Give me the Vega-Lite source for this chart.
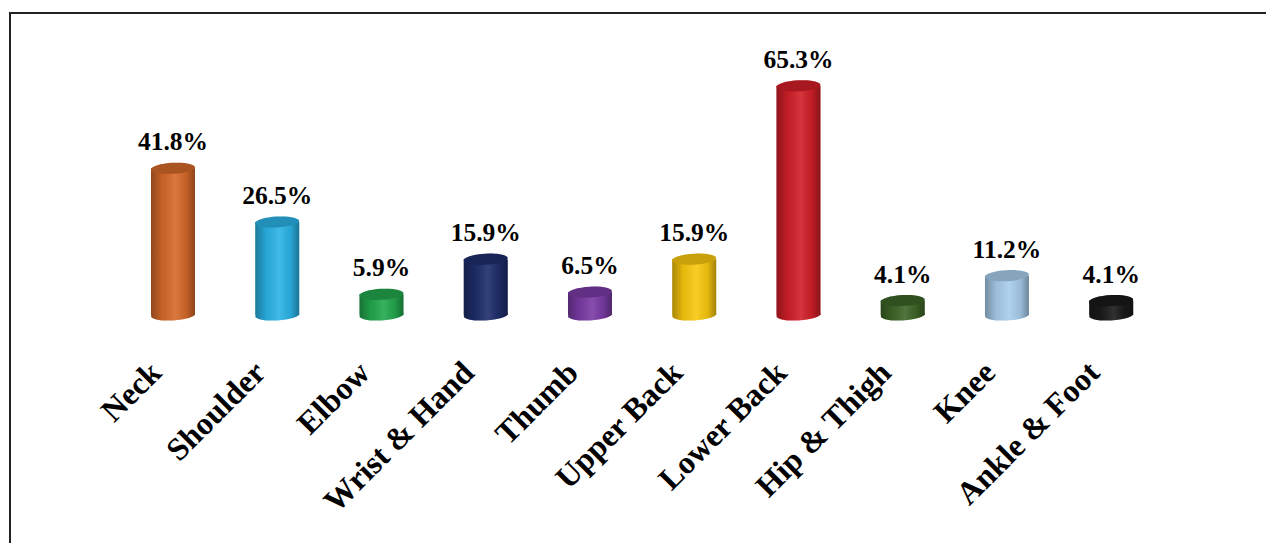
{
  "$schema": "https://vega.github.io/schema/vega-lite/v6.json",
  "autosize": {"type": "none"},
  "padding": {"left": 10, "top": 13, "right": 0, "bottom": 0},
  "width": 1270,
  "height": 560,
  "background": "white",
  "config": {
    "view": {"stroke": "#222222", "strokeWidth": 2},
    "font": "Liberation Serif"
  },
  "data": {
    "values": [
      {"part": "Neck", "share": 0.418},
      {"part": "Shoulder", "share": 0.265},
      {"part": "Elbow", "share": 0.059},
      {"part": "Wrist & Hand", "share": 0.159},
      {"part": "Thumb", "share": 0.065},
      {"part": "Upper Back", "share": 0.159},
      {"part": "Lower Back", "share": 0.653},
      {"part": "Hip & Thigh", "share": 0.041},
      {"part": "Knee", "share": 0.112},
      {"part": "Ankle & Foot", "share": 0.041}
    ]
  },
  "encoding": {
    "x": {
      "field": "part",
      "type": "nominal",
      "sort": null,
      "title": null,
      "scale": {"range": [141, 1123.2], "paddingInner": 0.578, "paddingOuter": 0},
      "axis": {
        "orient": "bottom",
        "offset": -258,
        "domain": false,
        "ticks": false,
        "tickSize": 0,
        "grid": false,
        "labelAngle": -45,
        "labelAlign": "right",
        "labelBaseline": "middle",
        "labelPadding": 52,
        "labelOffset": -17,
        "labelFont": "Liberation Serif",
        "labelFontWeight": "bold",
        "labelFontSize": 32,
        "labelColor": "#000000",
        "labelLimit": 0,
        "labelOverlap": false,
        "labelBound": false,
        "labelFlush": false
      }
    },
    "color": {
      "field": "part",
      "type": "nominal",
      "legend": null,
      "scale": {
        "domain": ["Neck", "Shoulder", "Elbow", "Wrist & Hand", "Thumb", "Upper Back", "Lower Back", "Hip & Thigh", "Knee", "Ankle & Foot"],
        "range": ["#D5692A", "#2BB3E6", "#23A84E", "#1E2D6B", "#7A3BA5", "#F9C80E", "#D11F28", "#3D6627", "#A8CDEB", "#1A1A1A"]
      }
    }
  },
  "layer": [
    {
      "mark": {"type": "point", "filled": true, "opacity": 1, "shape": "M-1,0A1,0.25,0,1,1,1,0A1,0.25,0,1,1,-1,0Z", "size": 1936, "angle": -3, "strokeWidth": 0},
      "encoding": {
        "y": {"datum": 0, "type": "quantitative", "scale": {"domain": [-0.735, 0.8604], "nice": false, "zero": false}, "axis": null}
      }
    },
    {
      "mark": {"type": "point", "filled": true, "opacity": 1, "shape": "M-1,0A1,0.25,0,1,1,1,0A1,0.25,0,1,1,-1,0Z", "size": 1936, "angle": -3, "strokeWidth": 0,
        "fill": {"gradient": "linear", "x1": 0, "x2": 1, "y1": 0, "y2": 0, "stops": [
          {"offset": 0, "color": "rgba(0,0,0,0.32)"},
          {"offset": 0.25, "color": "rgba(0,0,0,0.08)"},
          {"offset": 0.55, "color": "rgba(255,255,255,0.1)"},
          {"offset": 0.8, "color": "rgba(0,0,0,0.08)"},
          {"offset": 1, "color": "rgba(0,0,0,0.35)"}
        ]}},
      "encoding": {
        "y": {"datum": 0, "type": "quantitative"},
        "color": {"value": null}
      }
    },
    {
      "mark": {"type": "bar", "opacity": 1, "strokeWidth": 0},
      "encoding": {
        "y": {"field": "share", "type": "quantitative"},
        "y2": {"datum": 0}
      }
    },
    {
      "mark": {"type": "bar", "opacity": 1, "strokeWidth": 0,
        "fill": {"gradient": "linear", "x1": 0, "x2": 1, "y1": 0, "y2": 0, "stops": [
          {"offset": 0, "color": "rgba(0,0,0,0.32)"},
          {"offset": 0.25, "color": "rgba(0,0,0,0.08)"},
          {"offset": 0.55, "color": "rgba(255,255,255,0.1)"},
          {"offset": 0.8, "color": "rgba(0,0,0,0.08)"},
          {"offset": 1, "color": "rgba(0,0,0,0.35)"}
        ]}},
      "encoding": {
        "y": {"field": "share", "type": "quantitative"},
        "y2": {"datum": 0},
        "color": {"value": null}
      }
    },
    {
      "mark": {"type": "point", "filled": true, "opacity": 1, "shape": "M-1,0A1,0.25,0,1,1,1,0A1,0.25,0,1,1,-1,0Z", "size": 1936, "angle": -3, "strokeWidth": 0},
      "encoding": {
        "y": {"field": "share", "type": "quantitative"}
      }
    },
    {
      "mark": {"type": "point", "filled": true, "opacity": 0.2, "shape": "M-1,0A1,0.25,0,1,1,1,0A1,0.25,0,1,1,-1,0Z", "size": 1936, "angle": -3, "strokeWidth": 0, "fill": "#000000"},
      "encoding": {
        "y": {"field": "share", "type": "quantitative"},
        "color": {"value": null}
      }
    },
    {
      "mark": {"type": "text", "font": "Liberation Serif", "fontWeight": "bold", "fontSize": 25.5, "baseline": "middle", "align": "center", "dy": -26, "fill": "#000000"},
      "encoding": {
        "y": {"field": "share", "type": "quantitative"},
        "text": {"field": "share", "type": "quantitative", "format": ".1%"},
        "color": {"value": null}
      }
    }
  ]
}
